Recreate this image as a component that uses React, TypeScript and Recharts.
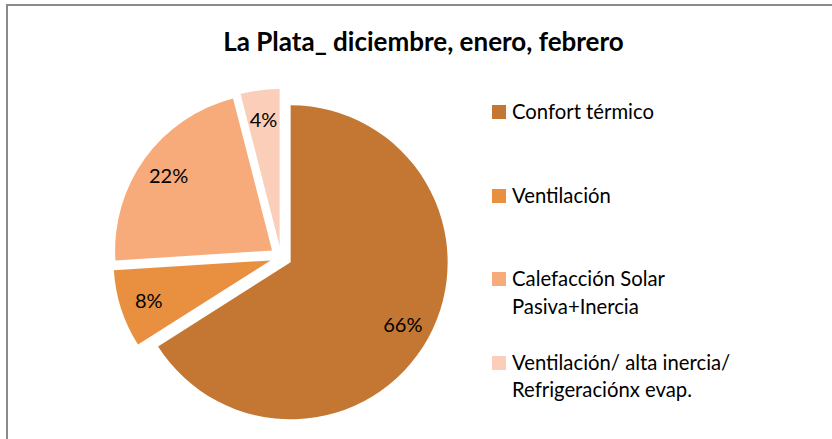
import React from 'react';
import { PieChart, Pie, Cell, Legend, Sector } from 'recharts';

const title = 'La Plata_ diciembre, enero, febrero';
const categories = [
  'Confort térmico',
  'Ventilación',
  'Calefacción Solar Pasiva+Inercia',
  'Ventilación/ alta inercia/ Refrigeraciónx evap.',
];
const values = [66, 8, 22, 4];
const colors = ['#C47732', '#E88F40', '#F7AA7A', '#FACEB8'];

const data = categories.map((name, i) => ({ name, value: values[i] }));

const RAD = Math.PI / 180;
const EXPLODE = 11;
const LABEL_R = 128;
const FONT = 'Lato, "Open Sans", sans-serif';

function renderSlice(props: any) {
  const { cx, cy, midAngle, startAngle, endAngle, outerRadius, percent, index } = props;
  const ux = Math.cos(-midAngle * RAD);
  const uy = Math.sin(-midAngle * RAD);
  const ox = cx + EXPLODE * ux;
  const oy = cy + EXPLODE * uy;
  const lx = ox + LABEL_R * ux;
  const ly = oy + LABEL_R * uy;
  return (
    <g key={'slice-' + index}>
      <Sector
        cx={ox}
        cy={oy}
        innerRadius={0}
        outerRadius={outerRadius}
        startAngle={startAngle}
        endAngle={endAngle}
        fill={colors[index]}
        stroke="none"
      />
      <text
        x={lx}
        y={ly}
        textAnchor="middle"
        dominantBaseline="central"
        fontFamily={FONT}
        fontSize={20}
        fill="#000"
      >
        {Math.round(percent * 100)}%
      </text>
    </g>
  );
}

function renderLegend(props: any) {
  const payload = [...(props.payload || [])].sort(
    (a: any, b: any) => categories.indexOf(a.value) - categories.indexOf(b.value)
  );
  return (
    <div style={{ fontFamily: FONT, fontSize: 20.3, color: '#000' }}>
      {payload.map((entry: any) => {
        const i = categories.indexOf(entry.value);
        return (
          <div key={'leg-' + i} style={{ display: 'flex', alignItems: 'flex-start', height: 83.6 }}>
            <div
              style={{
                width: 14,
                height: 14,
                marginTop: 7,
                marginRight: 6,
                background: colors[i],
                flex: '0 0 auto',
              }}
            />
            <div style={{ width: 235, lineHeight: '27.5px' }}>{entry.value}</div>
          </div>
        );
      })}
    </div>
  );
}

export default function App() {
  return (
    <div
      style={{
        position: 'absolute',
        left: 0,
        top: 0,
        width: 832,
        height: 439,
        overflow: 'hidden',
        background: '#fff',
      }}
    >
      <div
        style={{
          position: 'absolute',
          left: 6,
          top: 4,
          width: 900,
          height: 600,
          borderLeft: '2px solid #8a8a8a',
          borderTop: '2px solid #8a8a8a',
        }}
      />
      <div
        style={{
          position: 'absolute',
          left: 0,
          top: 27.5,
          width: 847,
          textAlign: 'center',
          fontFamily: FONT,
          fontWeight: 700,
          fontSize: 26,
          lineHeight: '26px',
          color: '#000',
          whiteSpace: 'nowrap',
        }}
      >
        {title}
      </div>
      <div style={{ position: 'absolute', left: 0, top: 0 }}>
        <PieChart width={832} height={439} margin={{ top: 0, right: 0, bottom: 0, left: 0 }}>
          <Pie
            data={data}
            dataKey="value"
            nameKey="name"
            cx={281}
            cy={257}
            outerRadius={157}
            innerRadius={0}
            startAngle={90}
            endAngle={-270}
            stroke="none"
            labelLine={false}
            label={renderSlice}
            isAnimationActive={false}
          >
            {data.map((d, i) => (
              <Cell key={'cell-' + i} fill="transparent" stroke="none" />
            ))}
          </Pie>
          <Legend
            layout="vertical"
            align="right"
            verticalAlign="top"
            content={renderLegend}
            wrapperStyle={{ left: 492, top: 98, width: 260, right: 'auto' }}
          />
        </PieChart>
      </div>
    </div>
  );
}
